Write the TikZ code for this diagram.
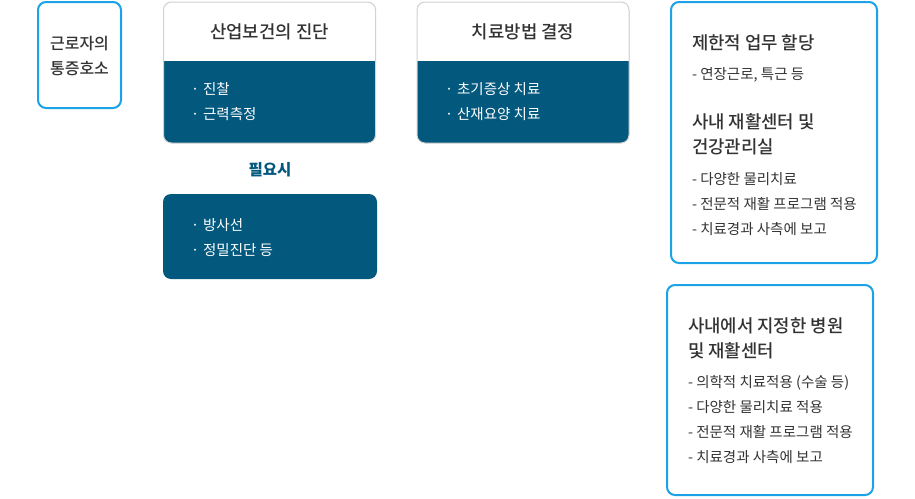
\documentclass[tikz,border=0pt]{standalone}
\usepackage{fontspec}
\setmainfont{Noto Sans CJK KR}
\newfontfamily\medfont{Noto Sans CJK KR Medium}
\definecolor{navy}{HTML}{03587D}
\definecolor{skyb}{HTML}{1CA2E6}
\definecolor{txt}{HTML}{333333}
\definecolor{hdrline}{HTML}{D2D2D2}
\begin{document}
\begin{tikzpicture}[x=1pt,y=-1pt,
  lbl/.style={inner sep=0pt, outer sep=0pt, text height=0.8em, text depth=0.1em, yshift=-2.8pt},
  ttl/.style={lbl, font=\medfont\fontsize{17.8}{17.8}\selectfont, text=txt},
  ttlw/.style={ttl, anchor=west},
  bul/.style={lbl, anchor=west, font=\fontsize{14.5}{14.5}\selectfont, text=white},
  itm/.style={lbl, anchor=west, font=\fontsize{14.5}{14.5}\selectfont, text=txt},
  bluebox/.style={draw=skyb, line width=2pt, rounded corners=8pt, fill=white, inner sep=0pt, outer sep=0pt},
  navybox/.style={fill=navy, rounded corners=8pt, inner sep=0pt, outer sep=0pt},
  cardline/.style={draw=hdrline, line width=1pt, rounded corners=8pt},
  note/.style={lbl, font=\bfseries\fontsize{15.5}{15.5}\selectfont, text=navy}]
\useasboundingbox[fill=white] (0,0) rectangle (915,498);

% box 1
\node[bluebox, minimum width=83, minimum height=106] (b1) at (79.5,55) {};
\node[lbl, font=\medfont\fontsize{16}{16}\selectfont, text=txt] (b1a) at (79.5,43) {근로자의};
\node[lbl, font=\medfont\fontsize{16}{16}\selectfont, text=txt] (b1b) at (79.5,68) {통증호소};

% box 2
\node[navybox, minimum width=212, minimum height=141] (b2) at (269.5,72.5) {};
\coordinate (h2) at (0,61);
\begin{scope}
  \clip[rounded corners=8pt] (b2.north west) rectangle (b2.south east);
  \fill[white] (b2.north west) rectangle (b2.east |- h2);
\end{scope}
\draw[cardline] (b2.north west) rectangle (b2.south east);
\node[ttl] (b2t) at (269.5,32) {산업보건의 진단};
\node[bul] (b2a) at (191,88) {·\hspace{4pt}진찰};
\node[bul] (b2b) at (191,113) {·\hspace{4pt}근력측정};

% note
\node[note] (nt) at (270,169) {필요시};

% box 3
\node[navybox, minimum width=214, minimum height=85] (b3) at (270,236.5) {};
\node[bul] (b3a) at (191,224) {·\hspace{4pt}방사선};
\node[bul] (b3b) at (191,249) {·\hspace{4pt}정밀진단 등};

% box 4
\node[navybox, minimum width=212, minimum height=141] (b4) at (523,72.5) {};
\coordinate (h4) at (0,61);
\begin{scope}
  \clip[rounded corners=8pt] (b4.north west) rectangle (b4.south east);
  \fill[white] (b4.north west) rectangle (b4.east |- h4);
\end{scope}
\draw[cardline] (b4.north west) rectangle (b4.south east);
\node[ttl] (b4t) at (523,32) {치료방법 결정};
\node[bul] (b4a) at (445,88) {·\hspace{4pt}초기증상 치료};
\node[bul] (b4b) at (445,113) {·\hspace{4pt}산재요양 치료};

% box 5
\node[bluebox, minimum width=206, minimum height=261] (b5) at (774,132.5) {};
\node[ttlw] (b5t1) at (692,43) {제한적 업무 할당};
\node[itm] (b5i1) at (692,73) {- 연장근로, 특근 등};
\node[ttlw] (b5t2) at (692,122) {사내 재활센터 및};
\node[ttlw] (b5t3) at (692,147) {건강관리실};
\node[itm] (b5i2) at (692,178) {- 다양한 물리치료};
\node[itm] (b5i3) at (692,203) {- 전문적 재활 프로그램 적용};
\node[itm] (b5i4) at (692,228) {- 치료경과 사측에 보고};

% box 6
\node[bluebox, minimum width=206, minimum height=210] (b6) at (770,390) {};
\node[ttlw] (b6t1) at (688,326) {사내에서 지정한 병원};
\node[ttlw] (b6t2) at (688,351) {및 재활센터};
\node[itm] (b6i1) at (688,381) {- 의학적 치료적용 (수술 등)};
\node[itm] (b6i2) at (688,406) {- 다양한 물리치료 적용};
\node[itm] (b6i3) at (688,431) {- 전문적 재활 프로그램 적용};
\node[itm] (b6i4) at (688,456) {- 치료경과 사측에 보고};
\end{tikzpicture}
\end{document}
